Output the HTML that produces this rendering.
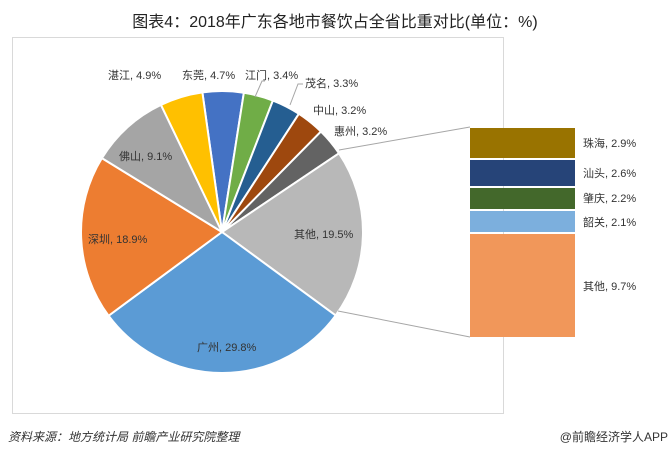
<!DOCTYPE html>
<html><head><meta charset="utf-8"><style>
body{margin:0;background:#fff;width:671px;height:460px;overflow:hidden;font-family:"Liberation Sans","Noto Sans CJK SC",sans-serif}
</style></head><body>
<svg id="s" width="671" height="460" xmlns="http://www.w3.org/2000/svg" font-family="Liberation Sans, Noto Sans CJK SC, sans-serif">
<text x="335" y="27" text-anchor="middle" font-size="16" fill="#222">图表4：2018年广东各地市餐饮占全省比重对比(单位：%)</text>
<rect x="12.5" y="37.5" width="491" height="376" fill="#fff" stroke="#d9d9d9"/>
<g id="pie"></g>
<line x1="339" y1="150" x2="470" y2="127" stroke="#a6a6a6"/>
<line x1="338" y1="311" x2="470" y2="337" stroke="#a6a6a6"/>
<rect x="470" y="128" width="105" height="30" fill="#997300"/>
<rect x="470" y="160" width="105" height="26" fill="#264478"/>
<rect x="470" y="188" width="105" height="21" fill="#43682B"/>
<rect x="470" y="211" width="105" height="21" fill="#7CAFDD"/>
<rect x="470" y="234" width="105" height="103" fill="#F1975A"/>
<g font-size="11" fill="#333">
<text x="583" y="147">珠海, 2.9%</text>
<text x="583" y="177">汕头, 2.6%</text>
<text x="583" y="202">肇庆, 2.2%</text>
<text x="583" y="226">韶关, 2.1%</text>
<text x="583" y="290">其他, 9.7%</text>
<text x="108" y="79">湛江, 4.9%</text>
<text x="182" y="79">东莞, 4.7%</text>
<text x="245" y="79">江门, 3.4%</text>
<text x="305" y="87">茂名, 3.3%</text>
<text x="313" y="114">中山, 3.2%</text>
<text x="334" y="135">惠州, 3.2%</text>
<text x="294" y="238">其他, 19.5%</text>
<text x="197" y="351">广州, 29.8%</text>
<text x="88" y="243">深圳, 18.9%</text>
<text x="119" y="160">佛山, 9.1%</text>
</g>
<polyline points="265,81 262,81 255,97" fill="none" stroke="#a6a6a6"/>
<polyline points="303,84 298,84 290,105" fill="none" stroke="#a6a6a6"/>
<text x="8" y="441" font-size="12" font-style="italic" fill="#333">资料来源：地方统计局 前瞻产业研究院整理</text>
<text x="668" y="441" font-size="12" text-anchor="end" fill="#333">@前瞻经济学人APP</text>
</svg>
<script>
var d=[[4.7,"#4472C4"],[3.4,"#70AD47"],[3.3,"#255E91"],[3.2,"#9E480E"],[3.2,"#636363"],[19.5,"#B8B8B8"],[29.8,"#5B9BD5"],[18.9,"#ED7D31"],[9.1,"#A5A5A5"],[4.9,"#FFC000"]];
var cx=222,cy=232,r=141,a=-8*Math.PI/180,g=document.getElementById("pie"),h="";
function p(t){return (cx+r*Math.sin(t)).toFixed(2)+","+(cy-r*Math.cos(t)).toFixed(2)}
d.forEach(function(e){var b=a+e[0]/100*2*Math.PI;h+='<path d="M'+cx+','+cy+' L'+p(a)+' A'+r+','+r+' 0 '+(b-a>Math.PI?1:0)+' 1 '+p(b)+' Z" fill="'+e[1]+'" stroke="#fff" stroke-width="2"/>';a=b;});
g.innerHTML=h;
</script>
</body></html>
